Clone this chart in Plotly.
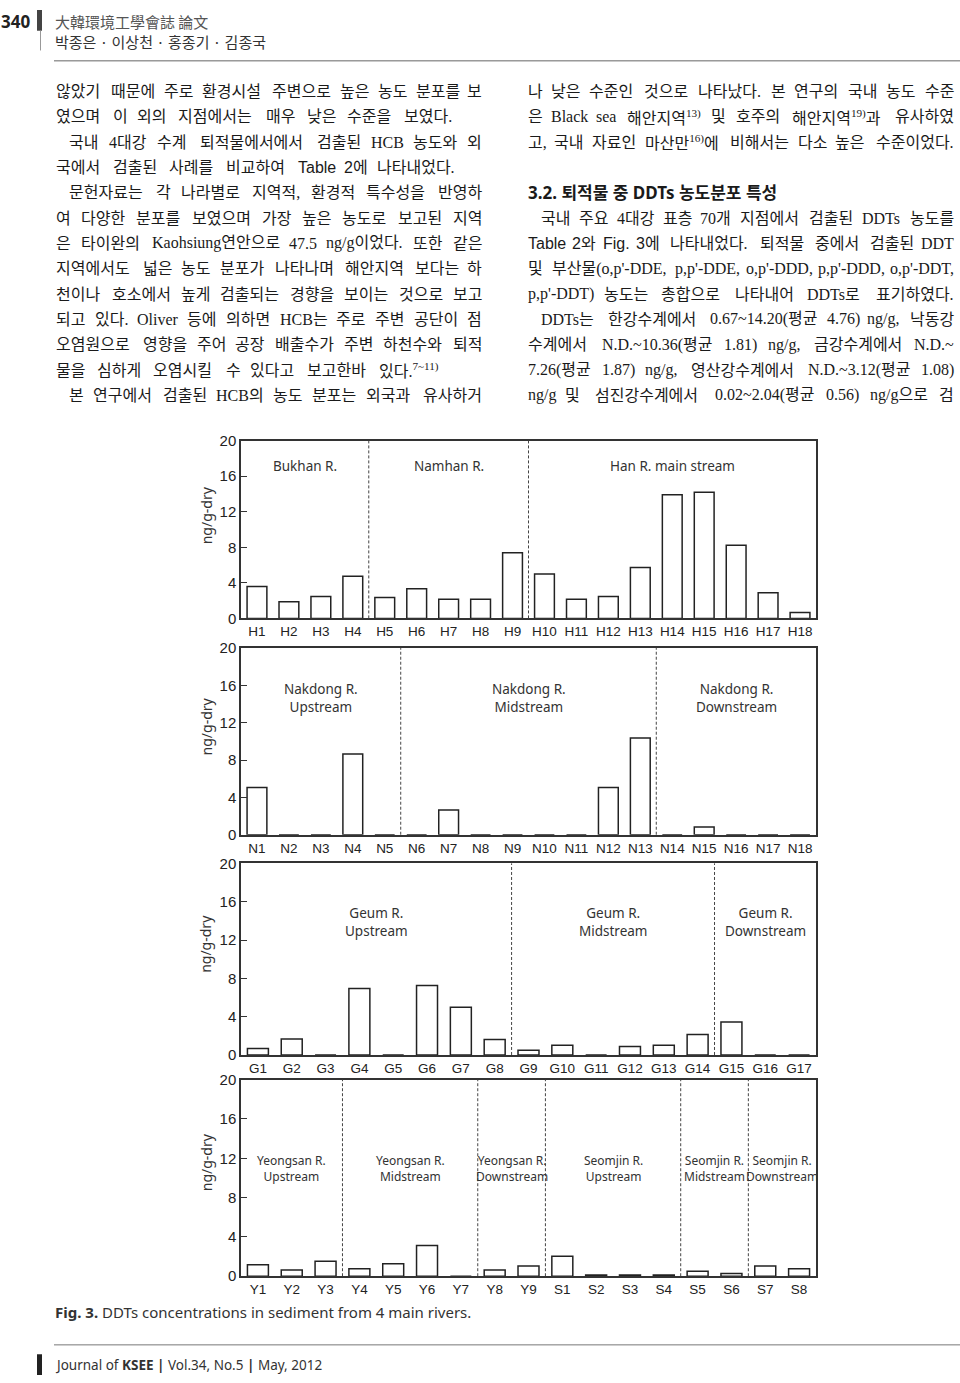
import re
import plotly.graph_objects as go

W, H = 960, 1383

# ---------------- chart data ----------------
han_stations = ["H1", "H2", "H3", "H4", "H5", "H6", "H7", "H8", "H9", "H10",
                "H11", "H12", "H13", "H14", "H15", "H16", "H17", "H18"]
han_values = [3.6, 1.87, 2.47, 4.75, 2.36, 3.33, 2.17, 2.17, 7.4, 5.0,
              2.17, 2.47, 5.72, 13.9, 14.2, 8.22, 2.88, 0.67]
han_groups = ["Bukhan R.", "Namhan R.", "Han R. main stream"]
han_group_sizes = [4, 5, 9]

nak_stations = ["N1", "N2", "N3", "N4", "N5", "N6", "N7", "N8", "N9", "N10",
                "N11", "N12", "N13", "N14", "N15", "N16", "N17", "N18"]
nak_values = [5.07, 0, 0, 8.64, 0, 0, 2.66, 0, 0, 0,
              0, 5.07, 10.36, 0, 0.84, 0, 0, 0]
nak_groups = ["Nakdong R.<br>Upstream", "Nakdong R.<br>Midstream", "Nakdong R.<br>Downstream"]
nak_group_sizes = [5, 8, 5]

geum_stations = ["G1", "G2", "G3", "G4", "G5", "G6", "G7", "G8", "G9", "G10",
                 "G11", "G12", "G13", "G14", "G15", "G16", "G17"]
geum_values = [0.67, 1.68, 0, 6.95, 0, 7.26, 4.97, 1.62, 0.5, 1.02,
               0, 0.88, 1.02, 2.15, 3.45, 0, 0]
geum_groups = ["Geum R.<br>Upstream", "Geum R.<br>Midstream", "Geum R.<br>Downstream"]
geum_group_sizes = [8, 6, 3]

ys_stations = ["Y1", "Y2", "Y3", "Y4", "Y5", "Y6", "Y7", "Y8", "Y9",
               "S1", "S2", "S3", "S4", "S5", "S6", "S7", "S8"]
ys_values = [1.18, 0.64, 1.52, 0.77, 1.28, 3.12, 0, 0.64, 1.04,
             2.04, 0.13, 0.13, 0.13, 0.5, 0.27, 1.04, 0.77]
ys_groups = ["Yeongsan R.<br>Upstream", "Yeongsan R.<br>Midstream", "Yeongsan R.<br>Downstream",
             "Seomjin R.<br>Upstream", "Seomjin R.<br>Midstream", "Seomjin R.<br>Downstream"]
ys_group_sizes = [3, 4, 2, 4, 2, 2]

y_ticks = [0, 4, 8, 12, 16, 20]
y_title = "ng/g-dry"

# ---------------- page text ----------------
left_lines = [
    "않았기 때문에 주로 환경시설 주변으로 높은 농도 분포를 보",
    "였으며 이 외의 지점에서는 매우 낮은 수준을 보였다.",
    "국내 4대강 수계 퇴적물에서에서 검출된 HCB 농도와 외",
    "국에서 검출된 사례를 비교하여 {Table} {2}에 나타내었다.",
    "문헌자료는 각 나라별로 지역적, 환경적 특수성을 반영하",
    "여 다양한 분포를 보였으며 가장 높은 농도로 보고된 지역",
    "은 타이완의 Kaohsiung연안으로 47.5 ng/g이었다. 또한 같은",
    "지역에서도 넓은 농도 분포가 나타나며 해안지역 보다는 하",
    "천이나 호소에서 높게 검출되는 경향을 보이는 것으로 보고",
    "되고 있다. Oliver 등에 의하면 HCB는 주로 주변 공단이 점",
    "오염원으로 영향을 주어 공장 배출수가 주변 하천수와 퇴적",
    "물을 심하게 오염시킬 수 있다고 보고한바 있다.<sup>7~11)</sup>",
    "본 연구에서 검출된 HCB의 농도 분포는 외국과 유사하거",
]
left_indent = [0, 0, 1, 0, 1, 0, 0, 0, 0, 0, 0, 0, 1]
left_justify = [1, 0, 1, 0, 1, 1, 1, 1, 1, 1, 1, 0, 1]

right_lines = [
    "나 낮은 수준인 것으로 나타났다. 본 연구의 국내 농도 수준",
    "은 Black sea 해안지역<sup>13)</sup> 및 호주의 해안지역<sup>19)</sup>과 유사하였",
    "고, 국내 자료인 마산만<sup>16)</sup>에 비해서는 다소 높은 수준이었다.",
    "",
    "",
    "국내 주요 4대강 표층 70개 지점에서 검출된 DDTs 농도를",
    "{Table} {2}와 {Fig.} {3}에 나타내었다. 퇴적물 중에서 검출된 DDT",
    "및 부산물(o,p'-DDE, p,p'-DDE, o,p'-DDD, p,p'-DDD, o,p'-DDT,",
    "p,p'-DDT) 농도는 총합으로 나타내어 DDTs로 표기하였다.",
    "DDTs는 한강수계에서 0.67~14.20(평균 4.76) ng/g, 낙동강",
    "수계에서 N.D.~10.36(평균 1.81) ng/g, 금강수계에서 N.D.~",
    "7.26(평균 1.87) ng/g, 영산강수계에서 N.D.~3.12(평균 1.08)",
    "ng/g 및 섬진강수계에서 0.02~2.04(평균 0.56) ng/g으로 검",
]
right_indent = [0, 0, 0, 0, 0, 1, 0, 0, 0, 1, 0, 0, 0]
right_justify = [1, 1, 1, 0, 0, 1, 1, 1, 1, 1, 1, 1, 1]
section_heading = "3.2. 퇴적물 중 DDTs 농도분포 특성"

journal_title = "大韓環境工學會誌 論文"
authors = "박종은 · 이상천 · 홍종기 · 김종국"
page_number = "340"
caption_head = "Fig. 3."
caption_text = "DDTs concentrations in sediment from 4 main rivers."
footer_text = "Journal of <b>KSEE</b> <b>|</b> Vol.34, No.5 <b>|</b> May, 2012"

# ---------------- helpers ----------------
SERIF = "Liberation Serif, Noto Sans CJK KR, serif"
SANS = "Noto Sans, Noto Sans CJK KR, sans-serif"
AX_FONT = "Liberation Sans, Arial, sans-serif"
TXT = "#1a1a1a"
BODY = 16


def px(x):
    return x / W


def py(y):
    return 1 - y / H


def char_w(ch):
    o = ord(ch)
    if 0xAC00 <= o <= 0xD7A3 or 0x3130 <= o <= 0x318F or 0x4E00 <= o <= 0x9FFF:
        return 1.0
    if ch in " .,:;":
        return 0.25
    if ch == "'":
        return 0.18
    if ch in "()[]-":
        return 0.333
    if ch == "~":
        return 0.54
    if ch == "/":
        return 0.278
    if ch.isdigit():
        return 0.5
    if ch.isupper():
        return 0.68
    if ch in "iljtf":
        return 0.28
    if ch in "mw":
        return 0.75
    return 0.47


def est_width(word, size):
    total = 0.0
    for part in re.split(r"(<sup>.*?</sup>)", word):
        if part.startswith("<sup>"):
            inner, scale = part[5:-6], 0.7
        else:
            inner, scale = part, 1.0
        inner = inner.replace("{", "").replace("}", "")
        for ch in inner:
            total += char_w(ch) * size * scale
    return total


def render(word):
    return re.sub(r"\{([^}]*)\}",
                  r'<span style="font-family:Liberation Sans, Arial, sans-serif">\1</span>', word)


annotations = []
shapes = []


def add_line(text, xl, xr, yc, justify=True, indent=0, size=BODY, gap=8.5):
    if not text:
        return
    words = text.split(" ")
    widths = [est_width(w, size) for w in words]
    start = xl + indent
    n = len(words)
    g = (xr - start - sum(widths)) / (n - 1) if (justify and n > 1) else gap
    x = start
    for i, (w, wd) in enumerate(zip(words, widths)):
        if justify and n > 1:
            if i == 0:
                anchor, ax = "left", x
            elif i == n - 1:
                anchor, ax = "right", xr
            else:
                anchor, ax = "center", x + wd / 2
        else:
            anchor, ax = "left", x
        annotations.append(dict(text=render(w), x=px(ax), y=py(yc), xref="paper", yref="paper",
                                xanchor=anchor, yanchor="middle", showarrow=False, borderpad=0,
                                font=dict(family=SERIF, size=size, color=TXT)))
        x += wd + g


LINE0, LINE_STEP = 83.5, 25.65
for i, t in enumerate(left_lines):
    add_line(t, 55, 483, LINE0 + LINE_STEP * i, bool(left_justify[i]), 13 * left_indent[i])
for i, t in enumerate(right_lines):
    add_line(t, 527, 955, LINE0 + LINE_STEP * i, bool(right_justify[i]), 13 * right_indent[i])

annotations.append(dict(text="<b>" + section_heading + "</b>", x=px(527), y=py(LINE0 + LINE_STEP * 4),
                        xref="paper", yref="paper", xanchor="left", yanchor="middle", showarrow=False,
                        borderpad=0, font=dict(family=SANS, size=17, color="#1a1a1a")))

# header / caption / footer
extra = [
    dict(text="<b>" + page_number + "</b>", x=px(0), y=py(13), xanchor="left", yanchor="middle",
         font=dict(family=SANS, size=17, color="#222")),
    dict(text=journal_title, x=px(54), y=py(13), xanchor="left", yanchor="middle",
         font=dict(family="Noto Sans CJK TC, Noto Sans CJK KR", size=15, color="#555")),
    dict(text=authors, x=px(54), y=py(32.5), xanchor="left", yanchor="middle",
         font=dict(family="Noto Sans CJK KR", size=15, color="#333")),
    dict(text="<b>" + caption_head + "</b> " + caption_text, x=px(54), y=py(1319), xanchor="left",
         yanchor="middle", font=dict(family=SANS, size=15, color="#333")),
    dict(text=footer_text, x=px(54), y=py(1373), xanchor="left", yanchor="middle",
         font=dict(family=SANS, size=13.5, color="#333")),
]
for a in extra:
    a.update(xref="paper", yref="paper", showarrow=False, borderpad=0)
annotations += extra

shapes += [
    dict(type="rect", xref="paper", yref="paper", x0=px(37), x1=px(42), y0=py(22), y1=py(1),
         fillcolor="#444", line=dict(width=0)),
    dict(type="line", xref="paper", yref="paper", x0=px(40.5), x1=px(40.5), y0=py(22), y1=py(42),
         line=dict(color="#999", width=1)),
    dict(type="line", xref="paper", yref="paper", x0=px(54), x1=px(960), y0=py(52.5), y1=py(52.5),
         line=dict(color="#666", width=1)),
    dict(type="line", xref="paper", yref="paper", x0=px(54), x1=px(960), y0=py(1352.5), y1=py(1352.5),
         line=dict(color="#777", width=1)),
    dict(type="rect", xref="paper", yref="paper", x0=px(37), x1=px(42), y0=py(1383), y1=py(1362),
         fillcolor="#222", line=dict(width=0)),
]

# ---------------- chart panels ----------------
panels = [
    dict(st=han_stations, v=han_values, g=han_groups, gs=han_group_sizes,
         top=437, bottom=617, ly=17.1, lsize=13.5),
    dict(st=nak_stations, v=nak_values, g=nak_groups, gs=nak_group_sizes,
         top=647, bottom=836, ly=14.7, lsize=13.5),
    dict(st=geum_stations, v=geum_values, g=geum_groups, gs=geum_group_sizes,
         top=865, bottom=1059, ly=13.9, lsize=13.5),
    dict(st=ys_stations, v=ys_values, g=ys_groups, gs=ys_group_sizes,
         top=1084, bottom=1283, ly=11.0, lsize=12),
]
X0, X1 = 241, 816

fig = go.Figure()
layout_axes = {}
for i, p in enumerate(panels, start=1):
    sfx = "" if i == 1 else str(i)
    xa, ya = "x" + sfx, "y" + sfx
    n = len(p["st"])
    fig.add_trace(go.Bar(x=p["st"], y=p["v"], xaxis=xa, yaxis=ya, width=0.62,
                         marker=dict(color="white", line=dict(color="#222", width=1.5)),
                         showlegend=False, hoverinfo="skip"))
    layout_axes["xaxis" + sfx] = dict(
        domain=[px(X0), px(X1)], anchor=ya, type="category", range=[-0.5, n - 0.5],
        showline=True, mirror=True, linecolor="#333", linewidth=1.5, ticks="",
        showgrid=False, zeroline=False, fixedrange=True,
        tickfont=dict(family=AX_FONT, size=13.5, color="#222"))
    layout_axes["yaxis" + sfx] = dict(
        domain=[py(p["bottom"]), py(p["top"])], anchor=xa, range=[0, 20], tickvals=y_ticks,
        ticks="inside", ticklen=6, tickwidth=1.2, tickcolor="#333",
        showline=True, mirror=True, linecolor="#333", linewidth=1.5,
        showgrid=False, zeroline=False, fixedrange=True,
        tickfont=dict(family=AX_FONT, size=15, color="#222"))
    start = 0
    for k, (name, size) in enumerate(zip(p["g"], p["gs"])):
        if k > 0:
            shapes.append(dict(type="line", xref=xa, yref=ya + " domain", x0=start - 0.5, x1=start - 0.5,
                               y0=0, y1=1, line=dict(color="#444", width=1, dash="3px,2px")))
        annotations.append(dict(text=name, x=start + (size - 1) / 2, y=p["ly"], xref=xa, yref=ya,
                                showarrow=False, xanchor="center", yanchor="middle",
                                font=dict(family=SANS, size=p["lsize"], color="#333")))
        start += size
    annotations.append(dict(text=y_title, textangle=-90, x=px(206), y=0.58, xref="paper",
                            yref=ya + " domain", showarrow=False, xanchor="center", yanchor="middle",
                            font=dict(family=SANS, size=14, color="#333")))

fig.update_layout(
    width=W, height=H, margin=dict(l=0, r=0, t=0, b=0),
    paper_bgcolor="white", plot_bgcolor="white",
    annotations=annotations, shapes=shapes, bargap=0.38,
    **layout_axes,
)

fig.write_html("out.html", config={"displayModeBar": False})
